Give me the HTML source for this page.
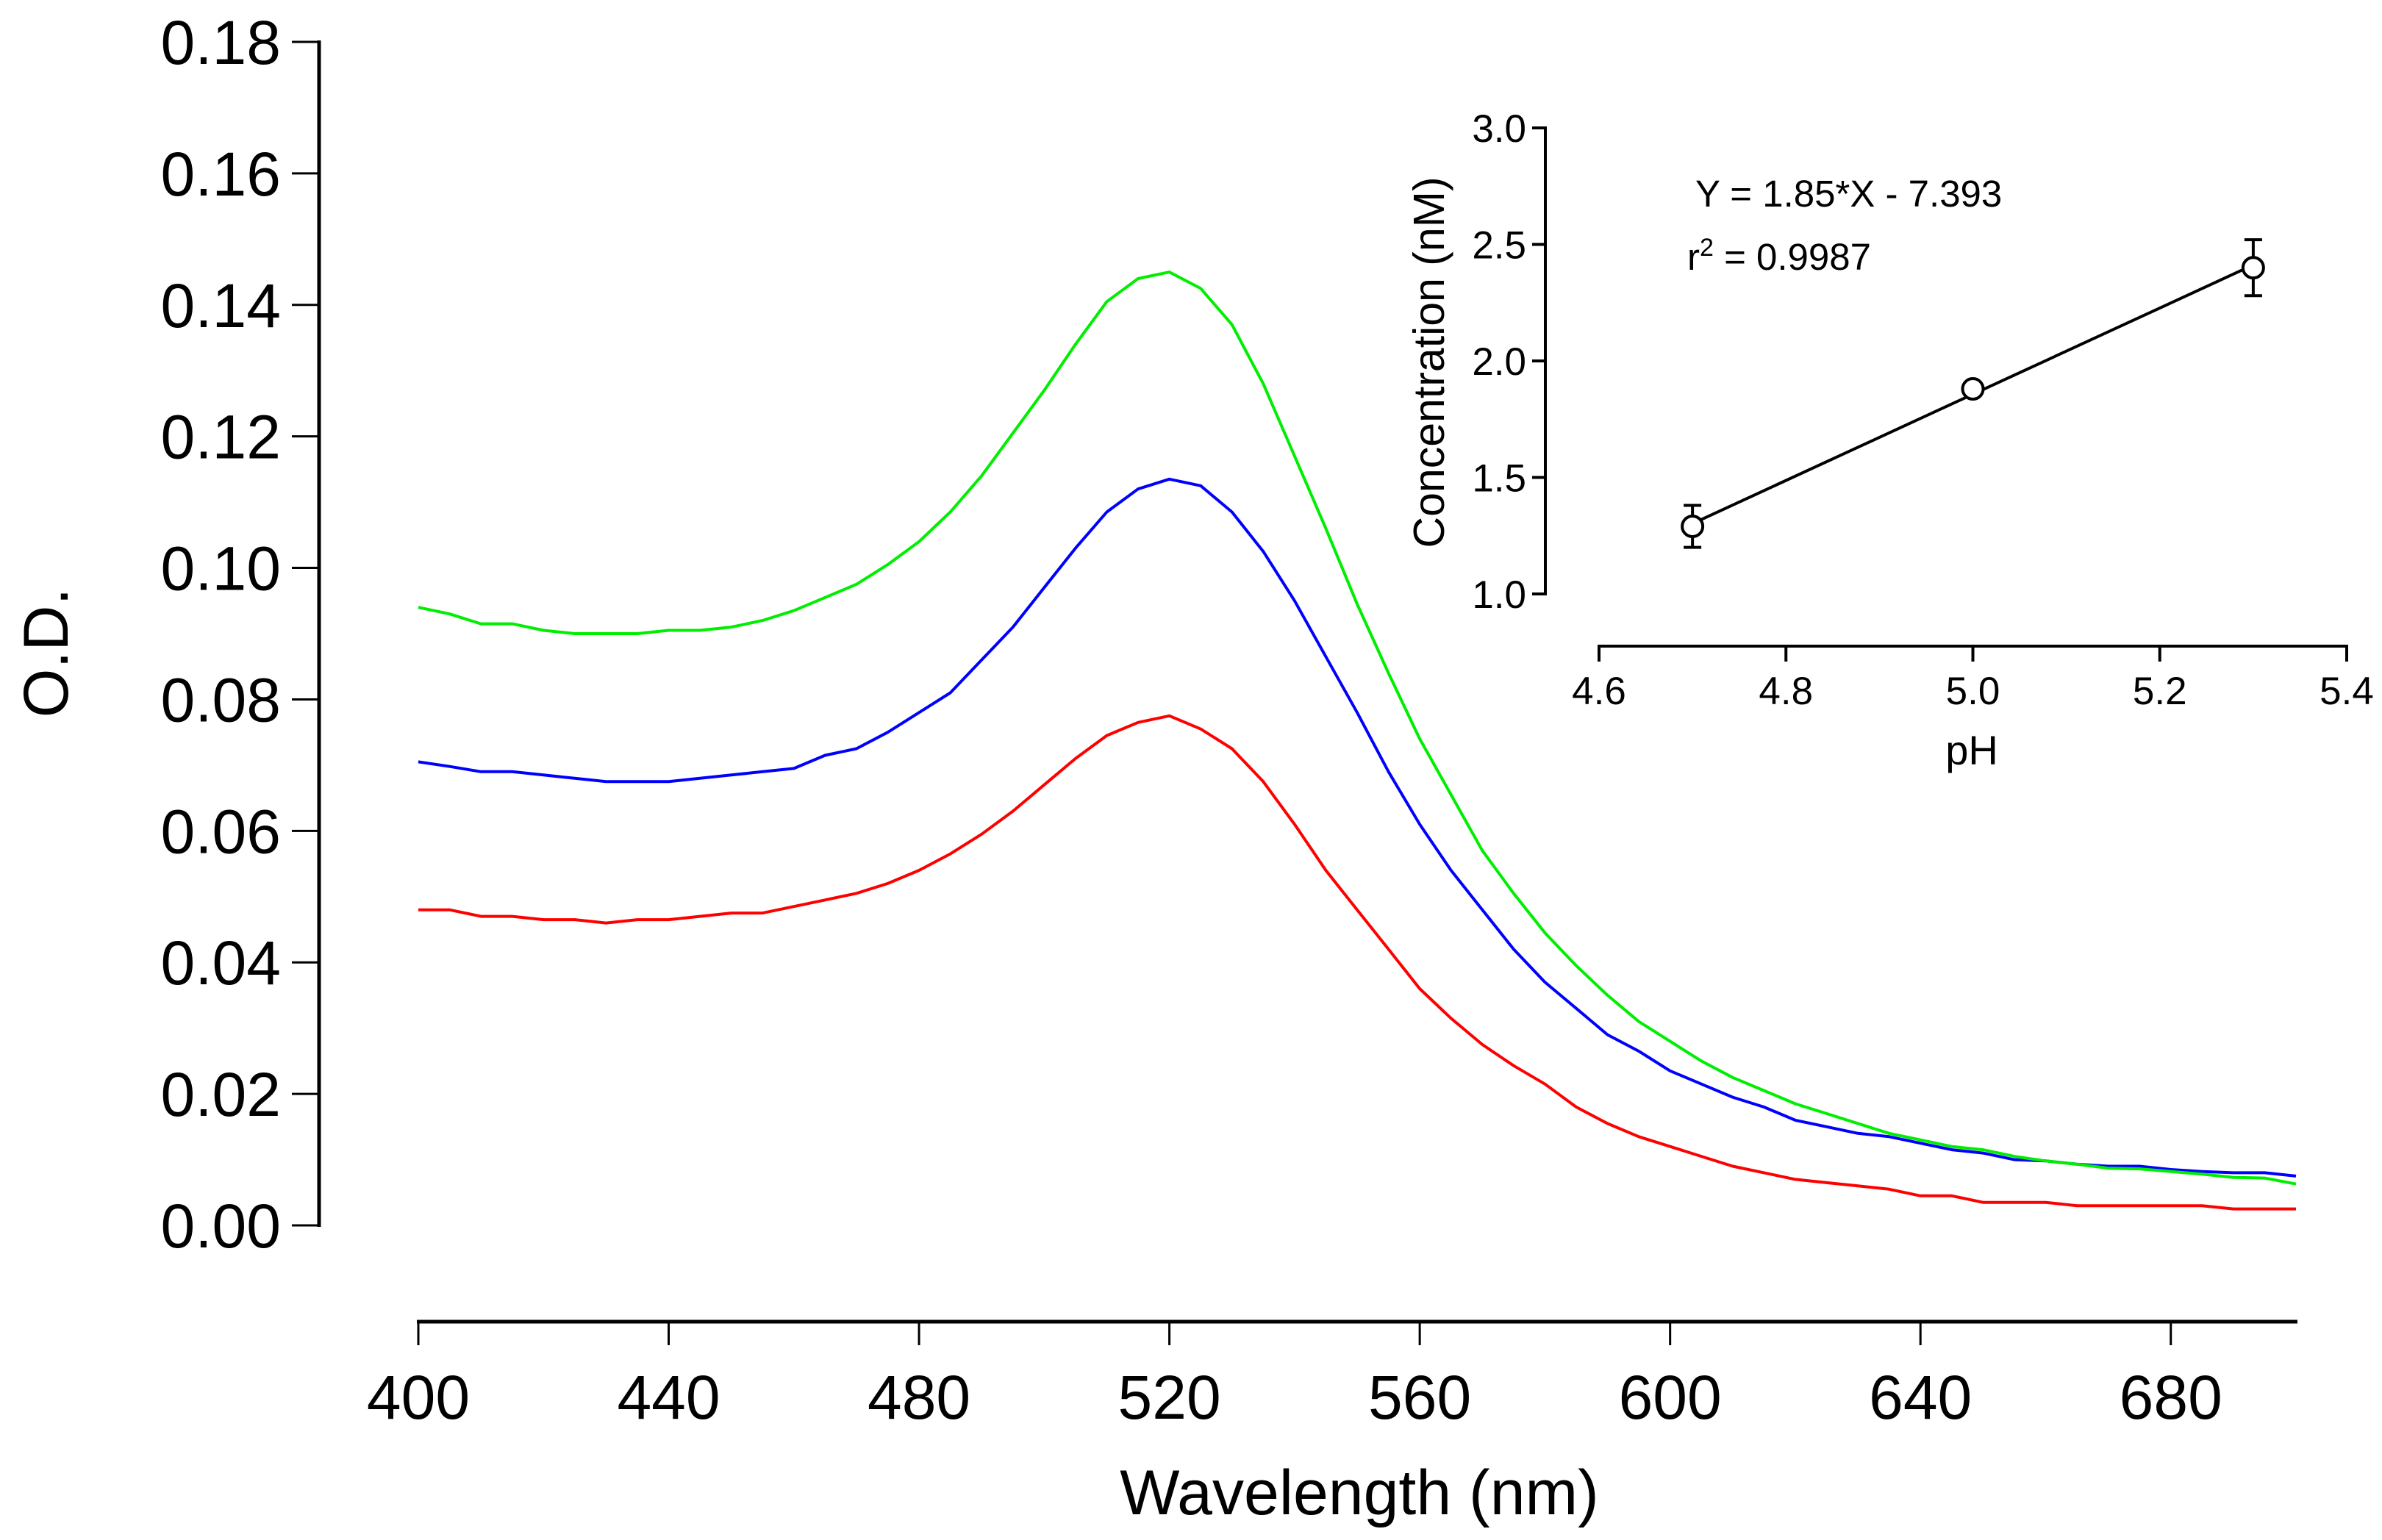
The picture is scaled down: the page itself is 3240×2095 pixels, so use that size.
<!DOCTYPE html>
<html><head><meta charset="utf-8"><style>
html,body{margin:0;padding:0;background:#fff;}
svg{display:block;font-family:"Liberation Sans",sans-serif;}
</style></head><body>
<svg id="chart" width="3240" height="2095" viewBox="0 0 3240 2095" xmlns="http://www.w3.org/2000/svg"></svg>
<script>
const wavelengths = [];
for (let w = 400; w <= 700; w += 5) wavelengths.push(w);
const greenValues = [0.094,0.093,0.0915,0.0915,0.0905,0.090,0.090,0.090,0.0905,0.0905,0.091,0.092,0.0935,0.0955,0.0975,0.1005,0.104,0.1085,0.114,0.1205,0.127,0.134,0.1405,0.144,0.145,0.1425,0.137,0.128,0.117,0.106,0.0945,0.084,0.074,0.0655,0.057,0.0505,0.0445,0.0395,0.035,0.031,0.028,0.025,0.0225,0.0205,0.0185,0.017,0.0155,0.014,0.013,0.012,0.0115,0.0105,0.0098,0.0093,0.0087,0.0086,0.0082,0.0078,0.0073,0.0072,0.0063];
const blueValues = [0.0705,0.0698,0.069,0.069,0.0685,0.068,0.0675,0.0675,0.0675,0.068,0.0685,0.069,0.0695,0.0715,0.0725,0.075,0.078,0.081,0.086,0.091,0.097,0.103,0.1085,0.112,0.1135,0.1125,0.1085,0.1025,0.095,0.0865,0.078,0.069,0.061,0.054,0.048,0.042,0.037,0.033,0.029,0.0265,0.0235,0.0215,0.0195,0.018,0.016,0.015,0.014,0.0135,0.0125,0.0115,0.011,0.010,0.0098,0.0093,0.009,0.009,0.0085,0.0082,0.008,0.008,0.0075];
const redValues = [0.048,0.048,0.047,0.047,0.0465,0.0465,0.046,0.0465,0.0465,0.047,0.0475,0.0475,0.0485,0.0495,0.0505,0.052,0.054,0.0565,0.0595,0.063,0.067,0.071,0.0745,0.0765,0.0775,0.0755,0.0725,0.0675,0.061,0.054,0.048,0.042,0.036,0.0315,0.0275,0.0243,0.0215,0.018,0.0155,0.0135,0.012,0.0105,0.009,0.008,0.007,0.0065,0.006,0.0055,0.0045,0.0045,0.0035,0.0035,0.0035,0.003,0.003,0.003,0.003,0.003,0.0025,0.0025,0.0025];
const yTickLabels = ["0.00","0.02","0.04","0.06","0.08","0.10","0.12","0.14","0.16","0.18"];
const xTickLabels = ["400","440","480","520","560","600","640","680"];
const insetPH = [4.7, 5.0, 5.3];
const insetConc = [1.29, 1.88, 2.40];
const insetErr = [0.09, 0.02, 0.12];
const insetYTicks = ["1.0","1.5","2.0","2.5","3.0"];
const insetXTicks = ["4.6","4.8","5.0","5.2","5.4"];
const fitSlope = 1.85, fitIntercept = -7.393;

const NS = "http://www.w3.org/2000/svg";
const svg = document.getElementById('chart');
function mk(tag, attrs, parent, text) {
  const e = document.createElementNS(NS, tag);
  for (const k in attrs) e.setAttribute(k, attrs[k]);
  if (text !== undefined) e.textContent = text;
  (parent || svg).appendChild(e);
  return e;
}
const xS = w => 569 + (w - 400) / 300 * (3123 - 569);
const yS = v => 1667 - v / 0.18 * (1667 - 57);

let g = mk('g', {});


mk('line', {x1:434, y1:55, x2:434, y2:1669, stroke:'#000', 'stroke-width':5}, g);
yTickLabels.forEach(t => {
  const y = yS(parseFloat(t));
  mk('line', {x1:397, y1:y, x2:434, y2:y, stroke:'#000', 'stroke-width':3}, g);
  const tx = mk('text', {x:382, y:y + 30, 'text-anchor':'end', 'font-size':84}, g, t);
  
  
});
const yl = mk('text', {x:0, y:0, transform:'translate(92,888) rotate(-90)', 'text-anchor':'middle', 'font-size':86}, svg, 'O.D.');



g = mk('g', {});


mk('line', {x1:567, y1:1798, x2:3125, y2:1798, stroke:'#000', 'stroke-width':5}, g);
xTickLabels.forEach(t => {
  const x = xS(parseFloat(t));
  mk('line', {x1:x, y1:1798, x2:x, y2:1830, stroke:'#000', 'stroke-width':3}, g);
  const tx = mk('text', {x:x, y:1930, 'text-anchor':'middle', 'font-size':84}, g, t);
  
  
});
const xl = mk('text', {x:1849, y:2060, 'text-anchor':'middle', 'font-size':86}, svg, 'Wavelength (nm)');



function series(vals, color, name) {
  const pts = wavelengths.map((w, i) => xS(w).toFixed(1) + ',' + yS(vals[i]).toFixed(1)).join(' ');
  const p = mk('polyline', {points:pts, fill:'none', stroke:color, 'stroke-width':4, 'stroke-linejoin':'round'});
  
  
}
series(redValues, '#ff0000', 'red-spectrum-line');
series(blueValues, '#0000ff', 'blue-spectrum-line');
series(greenValues, '#00ee00', 'green-spectrum-line');

const ixS = v => 2175 + (v - 4.6) / 0.8 * (3192 - 2175);
const iyS = v => 808 - (v - 1.0) / 2.0 * (808 - 174);
const inset = mk('g', {});


mk('line', {x1:2102, y1:172, x2:2102, y2:810, stroke:'#000', 'stroke-width':4}, inset);
insetYTicks.forEach(t => {
  const y = iyS(parseFloat(t));
  mk('line', {x1:2084, y1:y, x2:2102, y2:y, stroke:'#000', 'stroke-width':4}, inset);
  const tx = mk('text', {x:2076, y:y + 19, 'text-anchor':'end', 'font-size':53}, inset, t);
  
  
});
mk('line', {x1:2173, y1:879, x2:3194, y2:879, stroke:'#000', 'stroke-width':4}, inset);
insetXTicks.forEach(t => {
  const x = ixS(parseFloat(t));
  mk('line', {x1:x, y1:879, x2:x, y2:900, stroke:'#000', 'stroke-width':4}, inset);
  const tx = mk('text', {x:x, y:958, 'text-anchor':'middle', 'font-size':53}, inset, t);
  
  
});
let t1 = mk('text', {x:2682, y:1040, 'text-anchor':'middle', 'font-size':56}, inset, 'pH');


t1 = mk('text', {x:0, y:0, transform:'translate(1964,493) rotate(-90)', 'text-anchor':'middle', 'font-size':59}, inset, 'Concentration (nM)');


t1 = mk('text', {x:2306, y:281, 'font-size':51}, inset, 'Y = 1.85*X - 7.393');


t1 = mk('text', {x:2295, y:367, 'font-size':51}, inset);


t1.innerHTML = 'r<tspan dy="-19" font-size="34">2</tspan><tspan dy="19"> = 0.9987</tspan>';
const x0 = insetPH[0], x1 = insetPH[insetPH.length - 1];
const fl = mk('line', {x1:ixS(x0), y1:iyS(fitSlope*x0+fitIntercept), x2:ixS(x1), y2:iyS(fitSlope*x1+fitIntercept), stroke:'#000', 'stroke-width':4}, inset);


insetPH.forEach((ph, i) => {
  const x = ixS(ph), y = iyS(insetConc[i]);
  const yt = iyS(insetConc[i] + insetErr[i]), yb = iyS(insetConc[i] - insetErr[i]);
  const eb = mk('path', {d:`M${x},${yt}V${yb}M${x-12},${yt}H${x+12}M${x-12},${yb}H${x+12}`, stroke:'#000', 'stroke-width':4, fill:'none'}, inset);
  
  
  const c = mk('circle', {cx:x, cy:y, r:14, fill:'#fff', stroke:'#000', 'stroke-width':4}, inset);
  
  
});
</script>
</body></html>
